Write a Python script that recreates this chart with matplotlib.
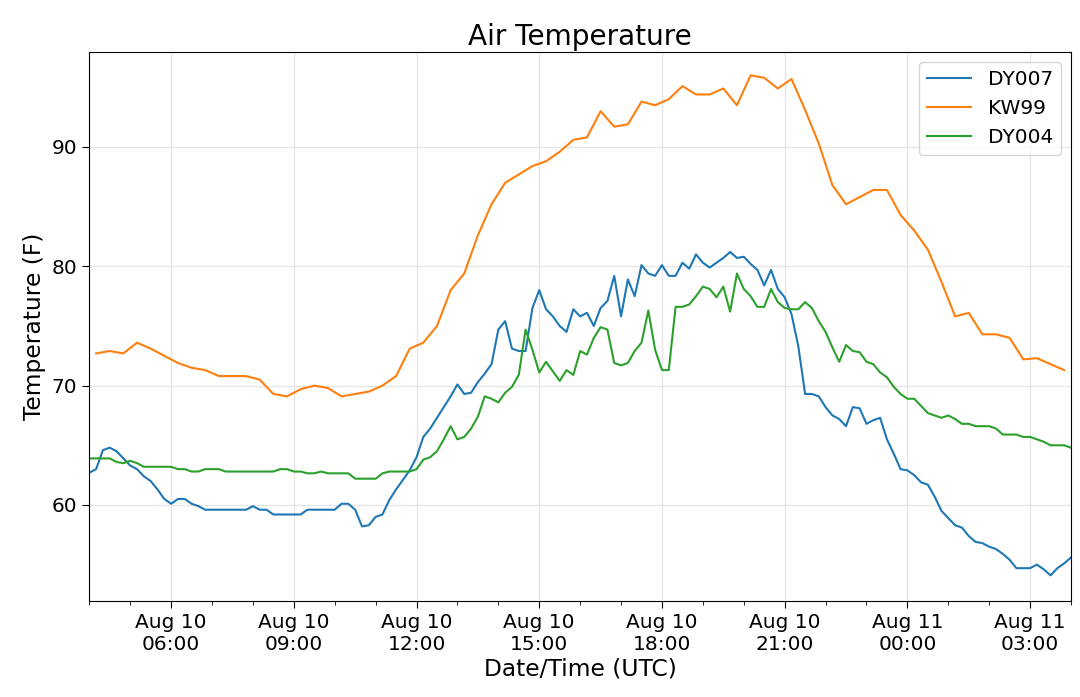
import numpy as np
import pandas as pd
import matplotlib
matplotlib.use("Agg")
import matplotlib.pyplot as plt
import matplotlib.dates as mdates
from matplotlib.ticker import MultipleLocator

# ---- data ----
start = pd.Timestamp("2017-08-10 04:00")
end = pd.Timestamp("2017-08-11 04:00")

# DY007: every 10 minutes from 04:00
dy007 = [62.7, 63.0, 64.6, 64.8, 64.5, 63.9, 63.3, 63.0, 62.4, 62.0,
         61.3, 60.5, 60.1, 60.5, 60.5, 60.1, 59.9, 59.6, 59.6, 59.6,
         59.6, 59.6, 59.6, 59.6, 59.9, 59.6, 59.6, 59.2, 59.2, 59.2,
         59.2, 59.2, 59.6, 59.6, 59.6, 59.6, 59.6, 60.1, 60.1, 59.6,
         58.2, 58.3, 59.0, 59.2, 60.4, 61.3, 62.1, 62.9, 64.0, 65.7,
         66.4, 67.3, 68.2, 69.1, 70.1, 69.3, 69.4, 70.3, 71.0, 71.8,
         74.7, 75.4, 73.1, 72.9, 72.9, 76.5, 78.0, 76.4, 75.8, 75.0,
         74.5, 76.4, 75.8, 76.1, 75.0, 76.5, 77.1, 79.2, 75.8, 78.9,
         77.5, 80.1, 79.4, 79.2, 80.1, 79.2, 79.2, 80.3, 79.8, 81.0,
         80.3, 79.9, 80.3, 80.7, 81.2, 80.7, 80.8, 80.2, 79.7, 78.4,
         79.7, 78.1, 77.4, 76.0, 73.3, 69.3, 69.3, 69.1, 68.2, 67.5,
         67.2, 66.6, 68.2, 68.1, 66.8, 67.1, 67.3, 65.5, 64.3, 63.0,
         62.9, 62.5, 61.9, 61.7, 60.7, 59.5, 58.9, 58.3, 58.1, 57.4,
         56.9, 56.8, 56.5, 56.3, 55.9, 55.4, 54.7, 54.7, 54.7, 55.0,
         54.6, 54.1, 54.7, 55.1, 55.6]

# DY004: every 10 minutes from 04:00
dy004 = [63.9, 63.9, 63.9, 63.9, 63.6, 63.5, 63.7, 63.5, 63.2, 63.2,
         63.2, 63.2, 63.2, 63.0, 63.0, 62.8, 62.8, 63.0, 63.0, 63.0,
         62.8, 62.8, 62.8, 62.8, 62.8, 62.8, 62.8, 62.8, 63.0, 63.0,
         62.8, 62.8, 62.65, 62.65, 62.8, 62.65, 62.65, 62.65, 62.65, 62.2,
         62.2, 62.2, 62.2, 62.65, 62.8, 62.8, 62.8, 62.8, 63.0, 63.8,
         64.0, 64.5, 65.5, 66.6, 65.5, 65.7, 66.4, 67.4, 69.1, 68.9,
         68.6, 69.4, 69.9, 70.9, 74.7, 73.0, 71.1, 72.0, 71.2, 70.4,
         71.3, 70.9, 72.9, 72.6, 74.0, 74.9, 74.7, 71.9, 71.7, 71.9,
         72.9, 73.6, 76.3, 73.0, 71.3, 71.3, 76.6, 76.6, 76.8, 77.5,
         78.3, 78.1, 77.4, 78.3, 76.2, 79.4, 78.1, 77.5, 76.6, 76.6,
         78.1, 77.0, 76.5, 76.4, 76.4, 77.0, 76.5, 75.4, 74.5, 73.2,
         72.0, 73.4, 72.9, 72.8, 72.0, 71.8, 71.1, 70.7, 69.9, 69.3,
         68.9, 68.9, 68.3, 67.7, 67.5, 67.3, 67.5, 67.2, 66.8, 66.8,
         66.6, 66.6, 66.6, 66.4, 65.9, 65.9, 65.9, 65.7, 65.7, 65.5,
         65.3, 65.0, 65.0, 65.0, 64.8]

# KW99: every 20 minutes from 04:10
kw99 = [72.7, 72.9, 72.7, 73.6, 73.1, 72.5, 71.9, 71.5, 71.3, 70.8,
        70.8, 70.8, 70.5, 69.3, 69.1, 69.7, 70.0, 69.8, 69.1, 69.3,
        69.5, 70.0, 70.8, 73.1, 73.6, 75.0, 78.0, 79.4, 82.6, 85.2,
        87.0, 87.7, 88.4, 88.8, 89.6, 90.6, 90.8, 93.0, 91.7, 91.9,
        93.8, 93.5, 94.0, 95.1, 94.4, 94.4, 94.9, 93.5, 96.0, 95.8,
        94.9, 95.7, 93.1, 90.3, 86.8, 85.2, 85.8, 86.4, 86.4, 84.3,
        83.0, 81.4, 78.7, 75.8, 76.1, 74.3, 74.3, 74.0, 72.2, 72.3,
        71.8, 71.3]

t_dy = pd.date_range(start, periods=len(dy007), freq="10min")
t_kw = pd.date_range(start + pd.Timedelta(minutes=10), periods=len(kw99), freq="20min")

series = [("DY007", t_dy, dy007), ("KW99", t_kw, kw99), ("DY004", t_dy, dy004)]

# ---- figure ----
fig = plt.figure(figsize=(10.8, 6.97), dpi=100)
ax = fig.add_axes([89.3 / 1080, 1 - 601 / 697, (1071 - 89.3) / 1080, (601 - 52) / 697])

for name, t, v in series:
    ax.plot(t, v, lw=1.5, label=name)

ax.set_xlim(start, end)
ax.set_ylim(51.95, 97.96)
ax.yaxis.set_major_locator(MultipleLocator(10))
ax.xaxis.set_major_locator(mdates.HourLocator(byhour=range(0, 24, 3)))
ax.xaxis.set_minor_locator(mdates.HourLocator(interval=1))
ax.xaxis.set_major_formatter(mdates.DateFormatter("%b %d\n%H:%M"))

ax.grid(True, which="major", color="#e6e6e6", lw=1.0)
ax.set_axisbelow(True)
ax.tick_params(axis="both", which="major", labelsize=14.5, length=5)
ax.tick_params(axis="x", which="minor", length=3)

ax.set_title("Air Temperature", fontsize=20.2, pad=5)
ax.set_xlabel("Date/Time (UTC)", fontsize=16.8, labelpad=3)
ax.set_ylabel("Temperature (F)", fontsize=16.8)
ax.legend(loc="upper right", fontsize=14.5, handlelength=2.2)

fig.savefig("out.png", dpi=100)
